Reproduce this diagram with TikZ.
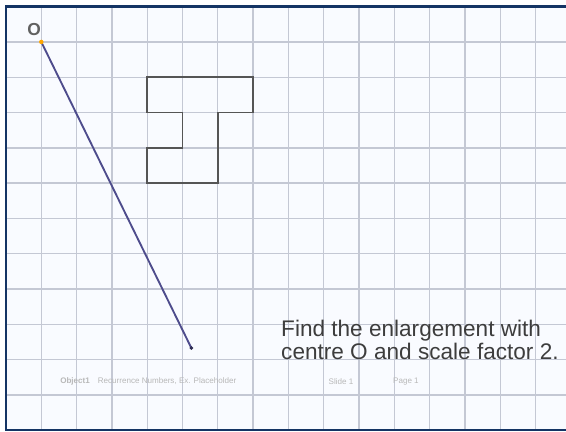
\documentclass[tikz,border=0pt]{standalone}
\usepackage{fontspec}
\setsansfont{Liberation Sans}
\usepackage{xcolor}
\definecolor{framenavy}{RGB}{20,52,100}
\definecolor{paper}{RGB}{249,251,255}
\definecolor{gridgray}{RGB}{196,200,212}
\definecolor{rayblue}{RGB}{78,76,140}
\definecolor{shapegray}{RGB}{85,85,85}
\usepackage{tikz}
\usetikzlibrary{positioning}

\begin{document}
\begin{tikzpicture}[
  gridline/.style={draw=gridgray, line width=1.1pt},
  outline/.style={draw=shapegray, line width=1.2pt, line join=miter},
  ray/.style={draw=rayblue, line width=1.5pt},
  task/.style={font=\sffamily\fontsize{18.2}{18.6}\selectfont, text=black!76, align=left, inner sep=0pt, anchor=north west},
  footer/.style={font=\sffamily\fontsize{6.5}{7}\selectfont, text=black!28, inner sep=0pt}
]
  \clip (0,0) rectangle (16.034,12.238);
  \fill[white] (0,0) rectangle (16.034,12.238);

  \begin{scope}[shift={(0.17,0.05)}]
    % paper and squares
    \fill[paper] (0,0) rectangle (17,12);
    \foreach \x in {1,...,15}
      \draw[gridline] (\x,0) -- (\x,12);
    \foreach \y in {1,...,11}
      \draw[gridline] (0,\y) -- (17,\y);
    \draw[framenavy, line width=2pt] (0,0) rectangle (17,12);

    % the object
    \draw[outline] (4,10) -- (7,10) -- (7,9) -- (6,9) -- (6,7) -- (4,7)
      -- (4,8) -- (5,8) -- (5,9) -- (4,9) -- cycle;

    % centre and ray
    \coordinate (O) at (1,11);
    \coordinate (R) at (5.25,2.33);
    \node[font=\sffamily\bfseries\fontsize{14}{14}\selectfont, text=black!62, inner sep=0pt] (olabel) at (0.8,11.34) {O};
    \draw[ray] (O) -- (R);
    \fill[orange!70!yellow] (O) circle (1.8pt);
    \fill[rayblue!60!black] (R) circle (1.6pt);

    \node[task] (question) at (7.79,3.12) {Find the enlargement with\\centre O and scale factor 2.};

    % faint footer
    \node[footer, anchor=west] (footleft) at (1.53,1.37) {\textbf{Object1}\quad Recurrence Numbers, Ex. Placeholder};
    \node[footer] (footslide) at (9.49,1.37) {Slide 1};
    \node[footer] (footpage) at (11.33,1.37) {Page 1};
  \end{scope}
\end{tikzpicture}
\end{document}
